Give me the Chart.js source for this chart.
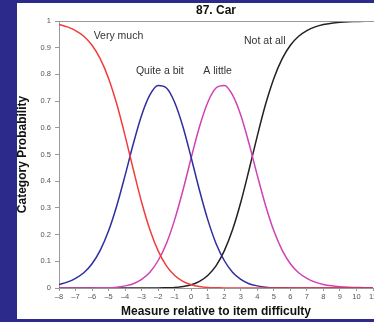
<!DOCTYPE html>
<html>
<head>
<meta charset="utf-8">
<script src="https://cdn.jsdelivr.net/npm/chart.js@4"></script>
<style>
  html, body { margin: 0; padding: 0; overflow: hidden; }
  body { background: #2c2a8b; width: 374px; height: 322px; position: relative; }
  #panel { position: absolute; left: 17px; top: 3px; width: 372px; height: 316px; background: #fff; }
</style>
</head>
<body>
<div id="panel"><canvas id="myChart"></canvas></div>
<script>
// measure values (x axis), one point every half unit
const measures = [-8, -7.5, -7, -6.5, -6, -5.5, -5, -4.5, -4, -3.5, -3, -2.5, -2, -1.5, -1, -0.5,
  0, 0.5, 1, 1.5, 2, 2.5, 3, 3.5, 4, 4.5, 5, 5.5, 6, 6.5, 7, 7.5, 8, 8.5, 9, 9.5, 10, 10.5, 11];

// category probabilities
const veryMuch = [0.987, 0.978, 0.964, 0.943, 0.909, 0.858, 0.785, 0.688, 0.570, 0.443, 0.321, 0.218,
  0.139, 0.083, 0.047, 0.025, 0.012, 0.006, 0.002, 0.001, 0, 0, 0, 0, 0, 0, 0, 0, 0, 0, 0, 0, 0, 0, 0, 0, 0, 0, 0];
const quiteABit = [0.013, 0.022, 0.036, 0.057, 0.091, 0.142, 0.214, 0.309, 0.422, 0.541, 0.647, 0.723,
  0.758, 0.749, 0.695, 0.604, 0.488, 0.366, 0.256, 0.167, 0.103, 0.059, 0.032, 0.016, 0.008, 0.003, 0.001,
  0.001, 0, 0, 0, 0, 0, 0, 0, 0, 0, 0, 0];
const aLittle = [0, 0, 0, 0, 0, 0.001, 0.001, 0.003, 0.008, 0.016, 0.032, 0.059, 0.103, 0.167, 0.256, 0.366,
  0.488, 0.604, 0.695, 0.749, 0.758, 0.723, 0.647, 0.541, 0.422, 0.309, 0.214, 0.142, 0.091, 0.057, 0.036,
  0.022, 0.013, 0.008, 0.005, 0.003, 0.002, 0.001, 0.001];
const notAtAll = [0, 0, 0, 0, 0, 0, 0, 0, 0, 0, 0, 0, 0, 0.001, 0.002, 0.006, 0.012, 0.025, 0.047, 0.083,
  0.139, 0.218, 0.321, 0.443, 0.570, 0.688, 0.785, 0.858, 0.909, 0.943, 0.964, 0.978, 0.987, 0.992, 0.995,
  0.997, 0.998, 0.999, 0.999];

const seriesNames = ['Very much', 'Quite a bit', 'A little', 'Not at all'];
const seriesColors = ['#f23c3c', '#2e2e9e', '#d042b4', '#222222'];
// where each curve name sits, in axis units
const labelX = [-4.4, -1.9, 1.6, 4.45];
const labelY = [0.944, 0.812, 0.812, 0.925];

const chartTitle = '87. Car';
const FONT = "'Liberation Sans', Arial, sans-serif";

function toPoints(values) {
  return values.map((v, i) => ({ x: measures[i], y: v }));
}

// top frame line, title and the curve names
const extras = {
  id: 'extras',
  afterDraw(chart) {
    const ctx = chart.ctx;
    const a = chart.chartArea;
    const xs = chart.scales.x;
    const ys = chart.scales.y;
    ctx.save();
    ctx.strokeStyle = '#999';
    ctx.lineWidth = 1;
    ctx.beginPath();
    ctx.moveTo(a.left, a.top + 0.5);
    ctx.lineTo(chart.width, a.top + 0.5);
    ctx.stroke();

    ctx.fillStyle = '#111';
    ctx.font = 'bold 12px ' + FONT;
    ctx.textAlign = 'center';
    ctx.textBaseline = 'middle';
    ctx.fillText(chartTitle, (a.left + a.right) / 2, 7.5);

    ctx.fillStyle = '#333';
    ctx.font = '10.5px ' + FONT;
    for (let i = 0; i < seriesNames.length; i++) {
      ctx.fillText(seriesNames[i], xs.getPixelForValue(labelX[i]), ys.getPixelForValue(labelY[i]));
    }
    ctx.restore();
  }
};

const ctx = document.querySelector('#myChart');
new Chart(ctx, {
  type: 'line',
  data: {
    datasets: [veryMuch, quiteABit, aLittle, notAtAll].map((vals, i) => ({
      label: seriesNames[i],
      data: toPoints(vals),
      borderColor: seriesColors[i],
      borderWidth: 1.5,
      pointRadius: 0,
      fill: false,
      cubicInterpolationMode: 'monotone'
    }))
  },
  options: {
    responsive: true,
    maintainAspectRatio: false,
    animation: false,
    layout: { padding: { top: 18, right: 16, left: 0, bottom: 0 } },
    plugins: { legend: { display: false }, tooltip: { enabled: false } },
    scales: {
      x: {
        type: 'linear',
        min: -8,
        max: 11,
        afterFit: (s) => { s.height = 31; },
        border: { color: '#999' },
        grid: { drawOnChartArea: false, tickLength: 3, color: '#999' },
        ticks: {
          stepSize: 1,
          padding: 1,
          maxRotation: 0,
          autoSkip: false,
          color: '#555',
          font: { family: FONT, size: 7.5 },
          callback: (v) => (v < 0 ? '\u2013' + Math.abs(v) : '' + v)
        },
        title: {
          display: true,
          text: 'Measure relative to item difficulty',
          color: '#111',
          padding: 0,
          font: { family: FONT, size: 12, weight: 'bold' }
        }
      },
      y: {
        min: 0,
        max: 1,
        afterFit: (s) => { s.width = 42; },
        border: { color: '#999' },
        grid: { drawOnChartArea: false, tickLength: 4, color: '#999' },
        ticks: {
          stepSize: 0.1,
          padding: 4,
          color: '#555',
          font: { family: FONT, size: 7.5 },
          callback: (v) => '' + (+v.toFixed(1))
        },
        title: {
          display: true,
          text: 'Category Probability',
          color: '#111',
          padding: 0,
          font: { family: FONT, size: 12, weight: 'bold', lineHeight: 1 }
        }
      }
    }
  },
  plugins: [extras]
});
</script>
</body>
</html>
